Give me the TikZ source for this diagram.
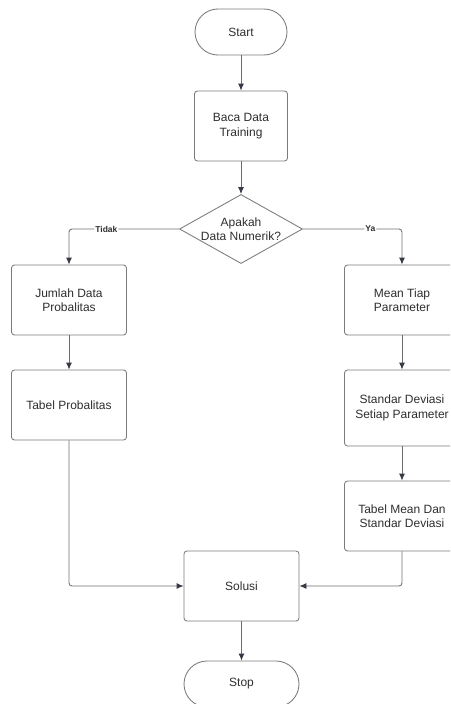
\documentclass[tikz,border=0pt]{standalone}
\usepackage{fontspec}
\setmainfont{Liberation Sans}
\usetikzlibrary{arrows.meta,shapes.geometric}

\definecolor{ink}{HTML}{2E2E2E}
\definecolor{edge}{HTML}{6E6E6E}
\definecolor{frame}{HTML}{7A7A7A}
\definecolor{tip}{HTML}{363A45}

\begin{document}
\begin{tikzpicture}[%
        x = 1pt, y = -1pt,
        > = {Latex[length=7pt,width=6pt,color=tip]},
        line width = 0.3mm,
        box/.style = {draw=frame, rounded corners=3pt, align=center,
            text=ink, minimum width=115pt, minimum height=70pt, inner sep=2pt,
            font=\fontsize{12}{14.5}\selectfont},
        pill/.style = {box, rounded corners=23pt, minimum width=92pt,
            minimum height=46pt},
        decision/.style = {draw=frame, diamond, aspect=1.75, inner sep=0pt,
            minimum width=123pt, minimum height=69pt,
            align=center, text=ink, font=\fontsize{12}{14.5}\selectfont},
        flow/.style = {draw=edge, ->, rounded corners=3pt},
        tag/.style = {fill=white, text=ink, inner sep=1pt,
            font=\fontsize{8.5}{10}\selectfont\bfseries}
    ]

        % Page frame, the right column runs past it.
        \useasboundingbox (0,0) rectangle (450,704);
        \clip (0,0) rectangle (450,704);

        % Nodes of the flow chart.
        \node[pill] (start) at (241,32)  {Start};
        \node[box, minimum width=93pt] (baca) at (241,126) {Baca Data\\Training};
        \node[decision] (numerik) at (241,229) {Apakah\\Data Numerik?};

        \node[box] (jumlah)    at (69,300) {Jumlah Data\\Probalitas};
        \node[box] (tabelprob) at (69,405) {Tabel Probalitas};

        \node[box] (mean)      at (402,300) {Mean Tiap\\Parameter};
        \node[box, minimum height=76pt] (stdev) at (402,408)
            {Standar Deviasi\\Setiap Parameter};
        \node[box] (tabelmean) at (402,516) {Tabel Mean Dan\\Standar Deviasi};

        \node[box] (solusi) at (241.5,586) {Solusi};
        \node[pill, minimum width=115pt] (stop) at (241.5,684) {Stop};

        % Connectors.
        \draw[flow] (start) -- (baca);
        \draw[flow] (baca) -- (numerik);
        \draw[flow] (numerik.west) -| node[tag, pos=0.33] {Tidak} (jumlah.north);
        \draw[flow] (numerik.east) -| node[tag, pos=0.34] {Ya} (mean.north);
        \draw[flow] (jumlah) -- (tabelprob);
        \draw[flow] (mean) -- (stdev);
        \draw[flow] (stdev) -- (tabelmean);
        \draw[flow] (tabelprob.south) |- (solusi.west);
        \draw[flow] (tabelmean.south) |- (solusi.east);
        \draw[flow] (solusi) -- (stop);
    \end{tikzpicture}
\end{document}
